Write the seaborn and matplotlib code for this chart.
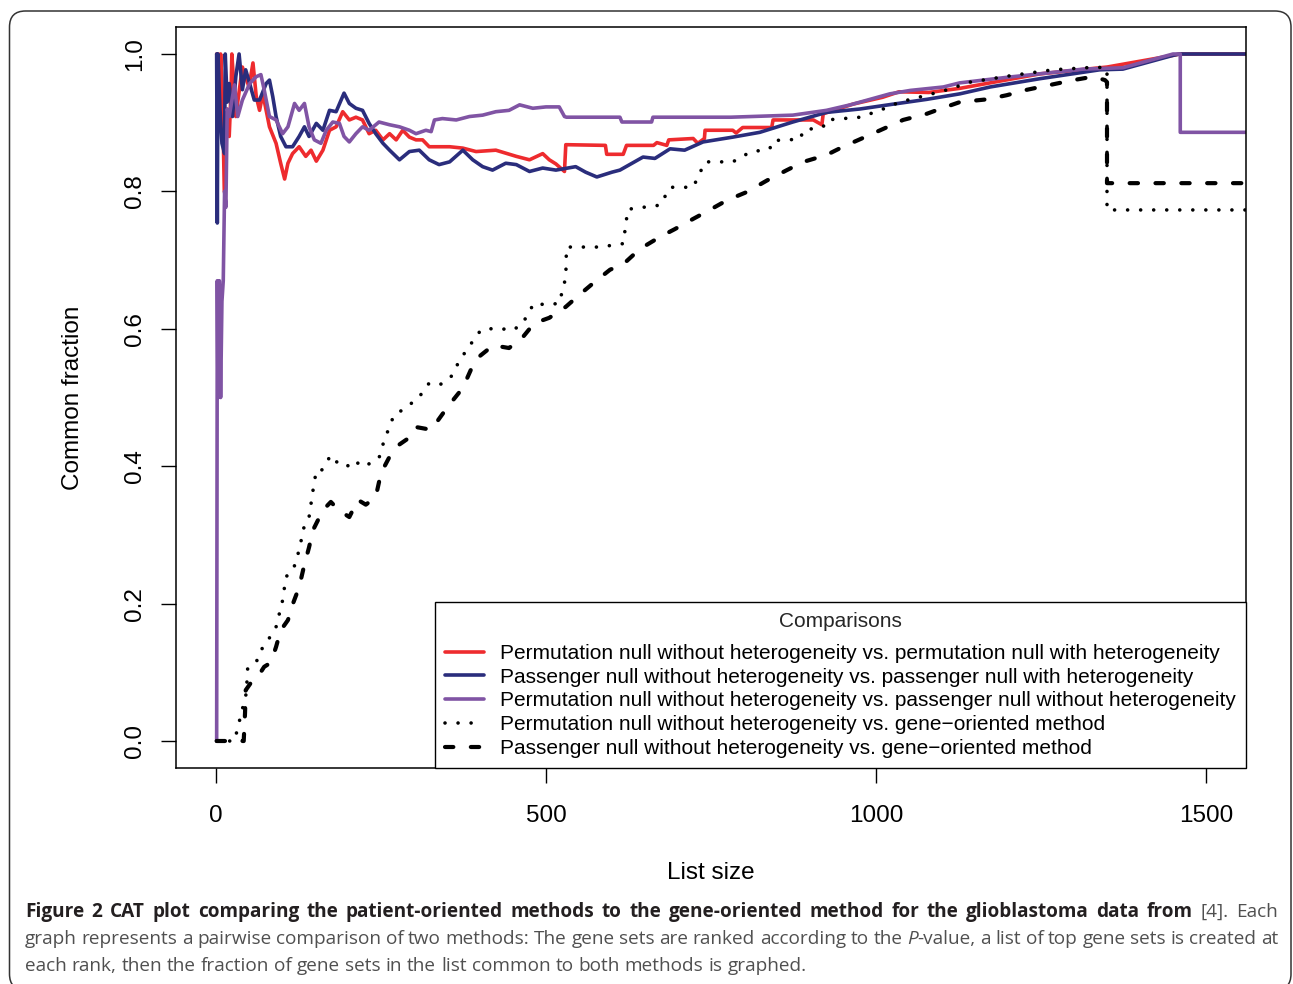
import numpy as np
import pandas as pd
import matplotlib
matplotlib.use("Agg")
import matplotlib.pyplot as plt
import seaborn as sns
from matplotlib.patches import FancyBboxPatch
from matplotlib.transforms import IdentityTransform

# ---------------- data ----------------
red_x = [1, 3, 5, 7, 10, 12.6, 16, 20, 23, 24, 30, 40, 50, 56, 61, 66, 71, 81, 91, 98, 104, 109, 116, 126,
         136, 144, 152, 162, 172, 182, 192, 202, 212, 222, 232, 242, 253, 263, 273, 283, 293, 303, 313, 323,
         354, 374, 394, 424, 455, 475, 495, 505, 515, 528, 530,
         590, 592, 617, 622, 663, 668, 683, 686, 723, 730, 740, 741, 783, 788, 798, 842, 844, 905, 918,
         920, 965, 1010, 1035, 1080, 1127, 1248, 1350, 1450, 1460, 1561]
red_y = [1.0, 1.0, 0.90, 1.0, 0.93, 0.80, 0.92, 0.88, 0.95, 1.0, 0.909, 0.981, 0.952, 0.987, 0.938, 0.918,
         0.942, 0.894, 0.870, 0.841, 0.818, 0.841, 0.855, 0.865, 0.851, 0.860, 0.844, 0.860, 0.889, 0.894,
         0.916, 0.904, 0.908, 0.904, 0.884, 0.889, 0.875, 0.884, 0.875, 0.889, 0.879, 0.875, 0.875, 0.865,
         0.865, 0.863, 0.858, 0.860, 0.851, 0.846, 0.855, 0.846, 0.840, 0.829, 0.868,
         0.867, 0.854, 0.854, 0.867, 0.867, 0.871, 0.867, 0.875, 0.877, 0.870, 0.877, 0.889, 0.889,
         0.885, 0.893, 0.893, 0.904, 0.904, 0.897, 0.913, 0.927, 0.937, 0.945, 0.944, 0.950, 0.971, 0.981,
         0.998, 1.0, 1.0]

navy_x = [1, 2, 3, 6, 9, 13, 14, 17, 20, 25, 30, 35, 40, 45, 51, 58, 66, 76, 81, 86, 91, 98, 106, 116,
          126, 134, 141, 152, 162, 172, 182, 194, 202, 212, 222, 232, 242, 253, 263, 278, 293, 308, 323,
          338, 354, 374, 389, 404, 419, 439, 455, 475, 495, 515, 545, 560, 577, 600, 612, 647, 665, 688, 710,
          738, 783, 824, 874, 925, 976, 1026, 1077, 1127, 1173, 1248, 1339, 1374, 1450, 1460, 1561]
navy_y = [1.0, 0.754, 1.0, 0.92, 0.87, 0.855, 1.0, 0.93, 0.957, 0.909, 0.967, 1.0, 0.948, 0.977, 0.957,
          0.933, 0.933, 0.957, 0.962, 0.938, 0.909, 0.880, 0.865, 0.865, 0.880, 0.894, 0.880, 0.899, 0.889,
          0.918, 0.916, 0.943, 0.928, 0.921, 0.918, 0.899, 0.884, 0.870, 0.860, 0.846, 0.858, 0.860, 0.846,
          0.839, 0.843, 0.860, 0.846, 0.836, 0.831, 0.841, 0.839, 0.829, 0.834, 0.831, 0.836, 0.828, 0.821,
          0.828, 0.831, 0.850, 0.848, 0.862, 0.860, 0.872, 0.879, 0.886, 0.901, 0.915, 0.920, 0.927, 0.934,
          0.942, 0.952, 0.964, 0.977, 0.978, 0.998, 1.0, 1.0]

purple_x = [1, 2, 3, 5, 7, 9, 11, 13, 15, 17, 20, 28, 33, 40, 51, 61, 68, 73, 81, 91, 101, 109, 119, 126,
            134, 141, 149, 159, 167, 177, 187, 194, 202, 212, 222, 232, 247, 263, 278, 293, 303, 318, 326,
            331, 343, 364, 384, 404, 424, 444, 460, 480, 500, 520, 528, 531, 612, 615, 660, 662, 780, 874,
            925, 961, 991, 1021, 1052, 1102, 1127, 1198, 1314, 1374, 1450, 1461, 1461, 1561]
purple_y = [0.0, 0.67, 0.50, 0.67, 0.50, 0.64, 0.67, 0.80, 0.777, 0.92, 0.909, 0.955, 0.909, 0.933, 0.957,
            0.967, 0.970, 0.948, 0.909, 0.904, 0.884, 0.894, 0.928, 0.918, 0.928, 0.894, 0.875, 0.870, 0.889,
            0.901, 0.899, 0.880, 0.872, 0.884, 0.894, 0.889, 0.901, 0.897, 0.894, 0.889, 0.884, 0.889, 0.887,
            0.904, 0.906, 0.904, 0.909, 0.911, 0.916, 0.918, 0.926, 0.921, 0.923, 0.923, 0.909, 0.908, 0.908,
            0.901, 0.901, 0.908, 0.908, 0.911, 0.918, 0.926, 0.934, 0.942, 0.947, 0.952, 0.958, 0.966, 0.978,
            0.980, 1.0, 1.0, 0.886, 0.886]

dot_x = [1, 28, 46, 48, 61, 71, 79, 91, 101, 106, 117, 126, 133, 141, 147, 152, 160, 174, 185, 195, 204,
         214, 224, 247, 254, 265, 270, 283, 298, 308, 323, 340, 356, 368, 383, 394, 401, 424, 450, 465, 473,
         482, 500, 520, 530, 531, 582, 617, 624, 673, 688, 723, 741, 783, 809, 839, 844, 885, 890, 920, 925,
         976, 1006, 1036, 1077, 1112, 1142, 1208, 1268, 1335, 1350, 1350, 1561]
dot_y = [0.0, 0.0, 0.07, 0.106, 0.115, 0.137, 0.147, 0.166, 0.205, 0.239, 0.249, 0.278, 0.310, 0.326,
         0.365, 0.394, 0.394, 0.416, 0.404, 0.405, 0.397, 0.405, 0.399, 0.412, 0.435, 0.463, 0.475, 0.482,
         0.493, 0.501, 0.521, 0.519, 0.530, 0.552, 0.574, 0.588, 0.598, 0.601, 0.598, 0.608, 0.623, 0.637,
         0.635, 0.637, 0.675, 0.719, 0.719, 0.724, 0.774, 0.780, 0.806, 0.806, 0.843, 0.843, 0.857, 0.862,
         0.874, 0.876, 0.889, 0.894, 0.904, 0.908, 0.918, 0.930, 0.940, 0.949, 0.959, 0.969, 0.977, 0.981,
         0.979, 0.773, 0.773]

dash_x = [1, 42, 44, 45, 56, 65, 73, 83, 91, 98, 109, 117, 126, 133, 141, 147, 162, 174, 186, 202, 215,
          227, 242, 250, 262, 277, 292, 303, 326, 344, 359, 374, 386, 398, 420, 444, 465, 482, 505, 530, 550,
          571, 597, 617, 642, 673, 695, 723, 748, 774, 804, 835, 865, 890, 925, 950, 976, 1011, 1041, 1077,
          1097, 1127, 1168, 1198, 1229, 1264, 1299, 1329, 1347, 1350, 1350, 1561]
dash_y = [0.0, 0.0, 0.041, 0.074, 0.089, 0.096, 0.108, 0.114, 0.137, 0.161, 0.176, 0.201, 0.224, 0.253,
          0.282, 0.307, 0.336, 0.348, 0.336, 0.326, 0.351, 0.344, 0.355, 0.390, 0.412, 0.431, 0.441, 0.457,
          0.453, 0.477, 0.496, 0.514, 0.540, 0.559, 0.576, 0.572, 0.588, 0.608, 0.616, 0.632, 0.649, 0.666,
          0.686, 0.694, 0.716, 0.734, 0.745, 0.760, 0.773, 0.787, 0.799, 0.816, 0.831, 0.843, 0.853, 0.865,
          0.876, 0.891, 0.904, 0.913, 0.920, 0.930, 0.934, 0.940, 0.948, 0.955, 0.962, 0.967, 0.962, 0.959,
          0.812, 0.812]

labels = [
    "Permutation null without heterogeneity vs. permutation null with heterogeneity",
    "Passenger null without heterogeneity vs. passenger null with heterogeneity",
    "Permutation null without heterogeneity vs. passenger null without heterogeneity",
    "Permutation null without heterogeneity vs. gene\u2212oriented method",
    "Passenger null without heterogeneity vs. gene\u2212oriented method",
]
x_ticks = [0, 500, 1000, 1500]
y_ticks = [0.0, 0.2, 0.4, 0.6, 0.8, 1.0]
y_ticklabels = ["0.0", "0.2", "0.4", "0.6", "0.8", "1.0"]

caption_line1_bold = "Figure 2 CAT plot comparing the patient-oriented methods to the gene-oriented method for the glioblastoma data from"
caption_line1_tail = "[4]. Each"
caption_line2 = "graph represents a pairwise comparison of two methods: The gene sets are ranked according to the P-value, a list of top gene sets is created at"
caption_line3 = "each rank, then the fraction of gene sets in the list common to both methods is graphed."

# ---------------- figure ----------------
sns.set_theme(style="white")
plt.rcParams["font.family"] = ["Liberation Sans", "DejaVu Sans"]

W, H = 1293, 984
fig = plt.figure(figsize=(W / 100, H / 100), dpi=100)
fig.patch.set_facecolor("white")
ax = fig.add_axes([176 / W, 1 - 768 / H, (1246 - 176) / W, (768 - 27) / H])

styles = [
    ("#EE2B2E", "-", 2.6),
    ("#2A2D7C", "-", 2.6),
    ("#8054A4", "-", 2.6),
    ("black", (0, (0.01, 3.6)), 2.6),
    ("black", (0, (2.0, 4.2)), 3.0),
]
series = [(red_x, red_y), (navy_x, navy_y), (purple_x, purple_y), (dot_x, dot_y), (dash_x, dash_y)]
handles = []
for (xs, ys), (col, ls, lw) in zip(series, styles):
    df = pd.DataFrame({"x": xs, "y": ys})
    n_before = len(ax.lines)
    sns.lineplot(data=df, x="x", y="y", estimator=None, sort=False, color=col,
                 linewidth=lw, linestyle=ls, ax=ax, legend=False)
    ln = ax.lines[n_before]
    ln.set_dash_capstyle("round")
    ln.set_solid_capstyle("round")
    ln.set_solid_joinstyle("round")
    ln.set_dash_joinstyle("round")
    handles.append(ln)

ax.set_xlim(-60.6, 1560.6)
ax.set_ylim(-0.0393, 1.0393)
ax.set_xticks(x_ticks)
ax.set_xticklabels([str(t) for t in x_ticks])
ax.set_yticks(y_ticks)
ax.set_yticklabels(y_ticklabels, rotation=90, va="center")
for sp in ax.spines.values():
    sp.set_color("black")
    sp.set_linewidth(1.1)
ax.tick_params(axis="both", which="major", bottom=True, left=True, direction="out",
               length=10.6, width=1.0, color="black", labelsize=17.5, labelcolor="black")
ax.tick_params(axis="x", pad=15.9)
ax.tick_params(axis="y", pad=11)

ax.set_xlabel("List size", fontsize=17.5, color="black")
ax.set_ylabel("Common fraction", fontsize=17.5, color="black")
ax.xaxis.set_label_coords(0.5, (768 - 873) / 741)
ax.xaxis.label.set_va("center")
ax.yaxis.set_label_coords((73 - 176) / 1070, 0.5)
ax.yaxis.label.set_va("center")

leg = ax.legend(handles, labels, title="Comparisons", loc="lower right", bbox_to_anchor=(1, 0),
                borderaxespad=0, fontsize=15, title_fontsize=15, frameon=True, fancybox=False,
                edgecolor="black", framealpha=1, handlelength=1.87, handletextpad=0.77,
                labelspacing=0.23, borderpad=0.48)
leg.get_frame().set_linewidth(1.0)
leg._legend_box.sep = 9.2
for t in leg.get_texts():
    t.set_color("black")

# ---------------- outer rounded frame ----------------
frame = FancyBboxPatch((9.5, H - 990), 1281.5, 979, boxstyle="round,pad=0,rounding_size=16",
                       transform=IdentityTransform(), fill=False, edgecolor="#333333", linewidth=1.1)
fig.add_artist(frame)

# ---------------- caption ----------------
renderer = fig.canvas.get_renderer()
cap_family = ["Open Sans", "DejaVu Sans"]
bold_col = "#231F20"
norm_col = "#505050"


def make_text(t, fs, weight="normal", style="normal", col=norm_col):
    return fig.text(0, 0, t, fontsize=fs, fontweight=weight, fontstyle=style, color=col,
                    family=cap_family, ha="left", va="center", transform=IdentityTransform())


def place_line(words, y_top, x0, x1, fs, justify=True):
    items = []
    for w in words:
        pcs = [make_text(t, fs, wt, st, c) for (t, wt, st, c) in w]
        items.append(pcs)
    widths = [[p.get_window_extent(renderer).width for p in pcs] for pcs in items]
    tot = sum(sum(ws) for ws in widths)
    if justify and len(items) > 1:
        gap = (x1 - x0 - tot) / (len(items) - 1)
    else:
        gap = 0.26 * fs * 100 / 72
    x = x0
    yd = H - y_top
    for pcs, ws in zip(items, widths):
        for p, w in zip(pcs, ws):
            p.set_position((x, yd))
            x += w
        x += gap
    return x - gap


def words_of(s, weight="normal", col=norm_col):
    return [[(w, weight, "normal", col)] for w in s.split()]


probe_fs = 12.0
probe = make_text(caption_line3, probe_fs)
pw = probe.get_window_extent(renderer).width
probe.remove()
cap_fs = probe_fs * (806 - 25) / pw

line1 = words_of(caption_line1_bold, "bold", bold_col) + words_of(caption_line1_tail)
line2 = []
for w in caption_line2.split():
    if w.startswith("P-value"):
        line2.append([("P", "normal", "italic", norm_col), (w[1:], "normal", "normal", norm_col)])
    else:
        line2.append([(w, "normal", "normal", norm_col)])
line3 = words_of(caption_line3)

place_line(line1, 912, 25, 1278, cap_fs, True)
place_line(line2, 939, 25, 1278, cap_fs, True)
place_line(line3, 966, 25, 1278, cap_fs, False)

fig.savefig("out.png", dpi=100, facecolor="white")
